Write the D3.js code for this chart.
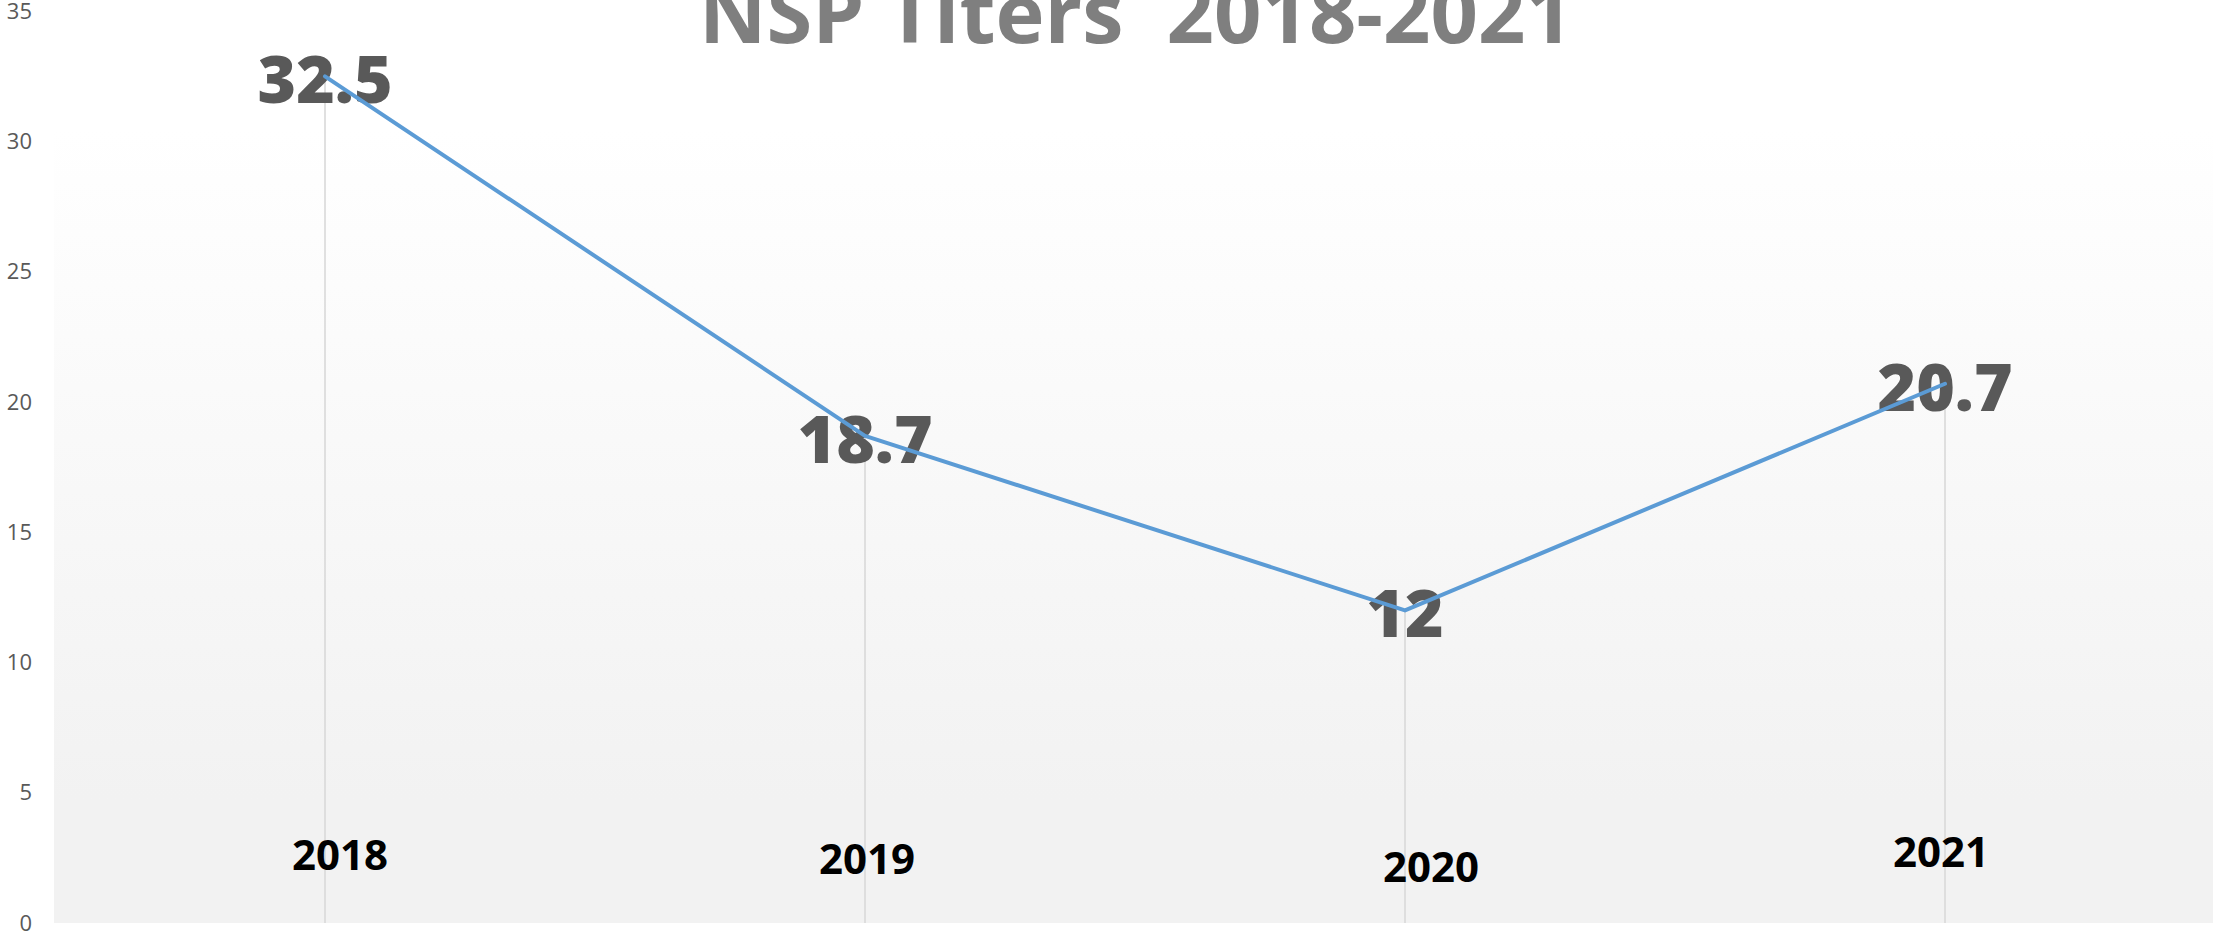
<!DOCTYPE html>
<html>
<head>
<meta charset="utf-8">
<script src="https://cdn.jsdelivr.net/npm/d3@7"></script>
<style>
  html, body { margin: 0; padding: 0; background: #ffffff; }
  svg { display: block; }
</style>
</head>
<body>
<div id="chart"></div>
<script>
// datos del grafico
const years = ["2018", "2019", "2020", "2021"];
const titers = [32.5, 18.7, 12, 20.7];
const yTicks = [0, 5, 10, 15, 20, 25, 30, 35];
const chartTitle = "NSP Titers  2018-2021";

const width = 2213;
const height = 933;
const plotLeft = 55, plotRight = 2215, plotTop = 130, plotBottom = 923;

// las etiquetas de año estan movidas a mano en el original
const yearNudge = [[15, 870], [2, 874], [26, 882], [-4, 867]];

const svg = d3.select("#chart").append("svg")
    .attr("width", width)
    .attr("height", height);

const x = d3.scaleBand()
    .domain(years)
    .range([plotLeft, plotRight]);
const y = d3.scaleLinear()
    .domain([0, 35])
    .range([plotBottom, 11.25]);
const cx = d => x(d) + x.bandwidth() / 2;

// fondo degradado del area de trazado
const grad = svg.append("defs").append("linearGradient")
    .attr("id", "plotBg")
    .attr("gradientUnits", "userSpaceOnUse")
    .attr("x1", 0).attr("x2", 0)
    .attr("y1", plotTop).attr("y2", 800);
grad.append("stop").attr("offset", "0%").attr("stop-color", "#ffffff");
grad.append("stop").attr("offset", "100%").attr("stop-color", "#f2f2f2");

svg.append("rect")
    .attr("x", plotLeft - 1)
    .attr("y", plotTop)
    .attr("width", width - plotLeft + 1)
    .attr("height", plotBottom - plotTop)
    .attr("fill", "url(#plotBg)");

// eje Y
const yAxis = svg.append("g")
    .attr("transform", `translate(${plotLeft - 1},0)`)
    .call(d3.axisLeft(y).tickValues(yTicks).tickSize(0).tickPadding(22));
yAxis.select(".domain").remove();
yAxis.selectAll("text")
    .attr("font-family", "'Open Sans', sans-serif")
    .attr("font-size", 22)
    .attr("fill", "#595959");

// lineas de caida
svg.selectAll(".drop")
    .data(years)
    .enter()
    .append("line")
    .attr("class", "drop")
    .attr("x1", d => cx(d))
    .attr("x2", d => cx(d))
    .attr("y1", (d, i) => y(titers[i]))
    .attr("y2", y(0))
    .attr("stroke", "#d9d9d9")
    .attr("stroke-width", 1.6);

// etiquetas de datos
svg.selectAll(".val")
    .data(years)
    .enter()
    .append("text")
    .attr("class", "val")
    .attr("x", d => cx(d))
    .attr("y", (d, i) => y(titers[i]) + 27)
    .attr("text-anchor", "middle")
    .attr("font-family", "'Open Sans', sans-serif")
    .attr("font-weight", 800)
    .attr("font-size", 66)
    .attr("fill", "#595959")
    .text((d, i) => titers[i]);

// serie
const line = d3.line()
    .x((d, i) => cx(years[i]))
    .y(d => y(d));
svg.append("path")
    .datum(titers)
    .attr("d", line)
    .attr("fill", "none")
    .attr("stroke", "#5b9bd5")
    .attr("stroke-width", 4)
    .attr("stroke-linejoin", "round")
    .attr("stroke-linecap", "round");

// etiquetas de año
svg.selectAll(".year")
    .data(years)
    .enter()
    .append("text")
    .attr("class", "year")
    .attr("x", (d, i) => cx(d) + yearNudge[i][0])
    .attr("y", (d, i) => yearNudge[i][1])
    .attr("text-anchor", "middle")
    .attr("font-family", "'Open Sans', sans-serif")
    .attr("font-weight", 700)
    .attr("font-size", 42)
    .attr("fill", "#000000")
    .text(d => d);

// titulo
svg.append("text")
    .attr("x", 1136)
    .attr("y", 43)
    .attr("text-anchor", "middle")
    .attr("font-family", "'Open Sans', sans-serif")
    .attr("font-weight", 700)
    .attr("font-size", 83)
    .attr("fill", "#7f7f7f")
    .style("white-space", "pre")
    .text(chartTitle);
</script>
</body>
</html>
